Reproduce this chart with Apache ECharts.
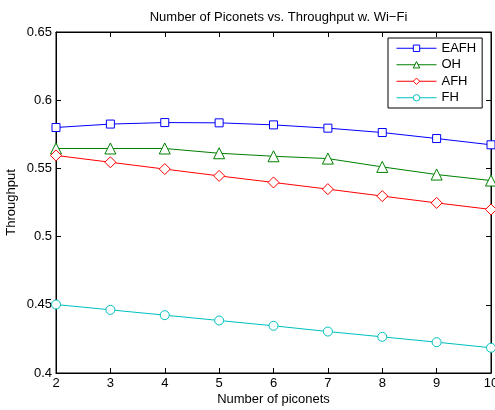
<!DOCTYPE html>
<html><head><meta charset="utf-8">
<script src="https://cdn.jsdelivr.net/npm/echarts@6/dist/echarts.min.js"></script>
<style>html,body{margin:0;padding:0;background:#fff}#c{width:495px;height:410px}</style>
</head><body><div id="c"></div>
<script>
const xValues = [2, 3, 4, 5, 6, 7, 8, 9, 10];
const eafh = [0.580, 0.5825, 0.5836, 0.5834, 0.5819, 0.5795, 0.5763, 0.5719, 0.5673];
const oh   = [0.5646, 0.5646, 0.5646, 0.5611, 0.5589, 0.5572, 0.5511, 0.5455, 0.5411];
const afh  = [0.5595, 0.5545, 0.5495, 0.5445, 0.5397, 0.5348, 0.5297, 0.5247, 0.5199];
const fh   = [0.4502, 0.4463, 0.4424, 0.4385, 0.4346, 0.4304, 0.4265, 0.4226, 0.4185];
const yTicks = [0.4, 0.45, 0.5, 0.55, 0.6, 0.65];

const font = 'Liberation Sans, Arial, Helvetica, sans-serif';
const pair = a => xValues.map((x, i) => [x, a[i]]);
function mk(name, data, color, symbol, size) {
  return { name, type: 'line', data: pair(data), symbol, symbolSize: size,
    lineStyle: { color, width: 1 }, itemStyle: { color: '#fff', borderColor: color, borderWidth: 1 },
    showAllSymbol: true, animation: false, z: 3 };
}
const chart = echarts.init(document.getElementById('c'), null, { renderer: 'canvas' });
const tickStyle = { show: true, inside: true, length: 5, lineStyle: { color: '#000', width: 1 } };
chart.setOption({
  backgroundColor: '#fff',
  animation: false,
  title: { text: 'Number of Piconets vs. Throughput w. Wi\u2212Fi', left: 273.5, textAlign: 'center', top: 6,
    textStyle: { fontFamily: font, fontSize: 13, fontWeight: 'normal', color: '#000' } },
  grid: { left: 56, right: 4, top: 32, bottom: 37, show: true, borderColor: '#000', borderWidth: 1,
    backgroundColor: '#fff', containLabel: false, outerBoundsMode: 'none' },
  legend: {
    orient: 'vertical', left: 388, top: 38, width: 90,
    data: ['EAFH', 'OH', 'AFH', 'FH'],
    itemWidth: 40, itemHeight: 8, itemGap: 2,
    padding: [3, 6, 3, 8],
    lineStyle: { width: 1 },
    itemStyle: { borderWidth: 1 },
    backgroundColor: '#fff', borderColor: '#000', borderWidth: 1, borderRadius: 0,
    textStyle: { fontFamily: font, fontSize: 13, color: '#000', lineHeight: 14.5 }
  },
  xAxis: [
    { type: 'value', min: 2, max: 10, interval: 1, name: 'Number of piconets', nameLocation: 'middle', nameGap: 20,
      nameMoveOverlap: false,
      nameTextStyle: { fontFamily: font, fontSize: 13, color: '#000' },
      axisLine: { show: true, lineStyle: { color: '#000' } }, axisTick: tickStyle,
      axisLabel: { fontFamily: font, fontSize: 13, color: '#000', margin: 4 }, splitLine: { show: false } },
    { type: 'value', position: 'top', min: 2, max: 10, interval: 1,
      axisLine: { show: true, lineStyle: { color: '#000' } }, axisTick: tickStyle,
      axisLabel: { show: false }, splitLine: { show: false } }
  ],
  yAxis: [
    { type: 'value', min: 0.4, max: 0.65, interval: 0.05, name: 'Throughput', nameLocation: 'middle', nameGap: 38,
      nameMoveOverlap: false,
      nameTextStyle: { fontFamily: font, fontSize: 13, color: '#000' },
      axisLine: { show: true, lineStyle: { color: '#000' } }, axisTick: tickStyle,
      axisLabel: { fontFamily: font, fontSize: 13, color: '#000', margin: 4,
        formatter: v => { const t = yTicks.find(y => Math.abs(y - v) < 1e-6); return t === undefined ? '' : String(t); } },
      splitLine: { show: false } },
    { type: 'value', position: 'right', min: 0.4, max: 0.65, interval: 0.05,
      axisLine: { show: true, lineStyle: { color: '#000' } }, axisTick: tickStyle,
      axisLabel: { show: false }, splitLine: { show: false } }
  ],
  series: [
    mk('EAFH', eafh, '#0000ff', 'rect', 8),
    mk('OH', oh, '#008000', 'triangle', 11),
    mk('AFH', afh, '#ff0000', 'diamond', 11),
    mk('FH', fh, '#00bfbf', 'circle', 9)
  ]
});
</script></body></html>
